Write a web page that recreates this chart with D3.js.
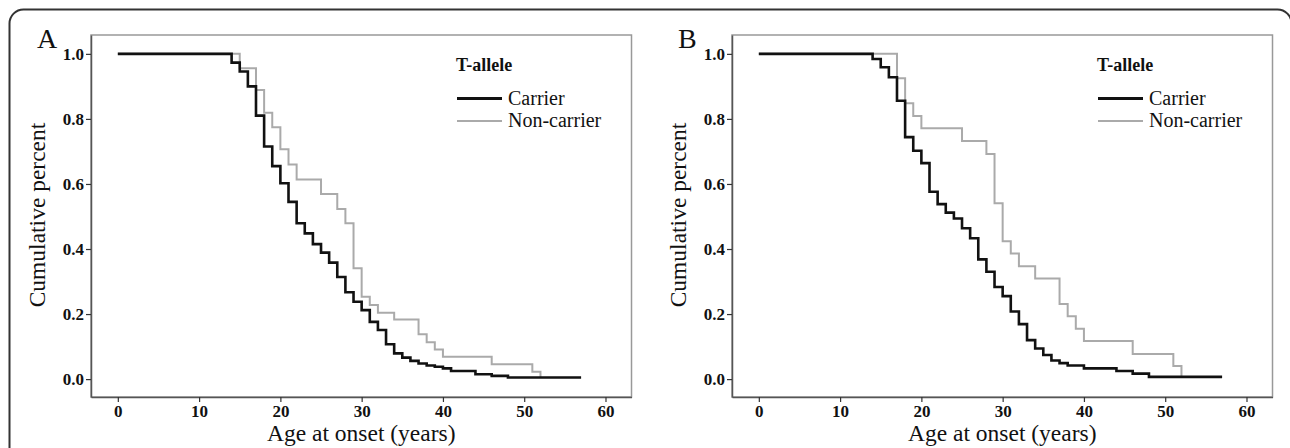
<!DOCTYPE html>
<html>
<head>
<meta charset="utf-8">
<script src="https://d3js.org/d3.v7.min.js"></script>
<style>
  body { margin: 0; background: #fff; }
  text { font-family: "Liberation Serif", "DejaVu Serif", serif; fill: #111; }
</style>
</head>
<body>
<div id="chart"></div>
<script>
// Step curves: age at which the step happens, value after the step
var carrierAgesA = [0, 14, 15, 16, 17, 18, 19, 20, 21, 22, 23, 24, 25, 26, 27, 28, 29, 30, 31, 32, 33, 34, 35, 36, 37, 38, 39, 40, 41, 44, 46, 48, 57];
var carrierValsA = [1.0, 0.973, 0.946, 0.90, 0.81, 0.715, 0.655, 0.602, 0.545, 0.479, 0.448, 0.415, 0.389, 0.358, 0.314, 0.267, 0.238, 0.212, 0.176, 0.151, 0.107, 0.079, 0.066, 0.056, 0.048, 0.042, 0.038, 0.033, 0.025, 0.015, 0.010, 0.005, 0.005];

var nonCarrierAgesA = [0, 15, 17, 18, 19, 20, 21, 22, 25, 27, 28, 29, 30, 31, 32, 34, 37, 38, 39, 40, 46, 51, 52];
var nonCarrierValsA = [1.0, 0.956, 0.889, 0.819, 0.774, 0.707, 0.66, 0.614, 0.569, 0.523, 0.479, 0.341, 0.253, 0.228, 0.204, 0.183, 0.138, 0.113, 0.091, 0.069, 0.046, 0.023, 0.005];

var carrierAgesB = [0, 14, 15, 16, 17, 18, 19, 20, 21, 22, 23, 24, 25, 26, 27, 28, 29, 30, 31, 32, 33, 34, 35, 36, 37, 38, 40, 44, 46, 48, 57];
var carrierValsB = [1.0, 0.984, 0.959, 0.928, 0.856, 0.744, 0.702, 0.664, 0.576, 0.538, 0.512, 0.494, 0.464, 0.433, 0.368, 0.330, 0.283, 0.255, 0.208, 0.169, 0.12, 0.094, 0.074, 0.057, 0.049, 0.042, 0.033, 0.025, 0.017, 0.007, 0.007];

var nonCarrierAgesB = [0, 17, 18, 19, 20, 25, 28, 29, 30, 31, 32, 34, 37, 38, 39, 40, 46, 51, 52];
var nonCarrierValsB = [1.0, 0.925, 0.848, 0.809, 0.771, 0.732, 0.692, 0.541, 0.424, 0.386, 0.347, 0.309, 0.231, 0.193, 0.155, 0.117, 0.077, 0.04, 0.005];

var xTicks = [0, 10, 20, 30, 40, 50, 60];
var yTicks = [0.0, 0.2, 0.4, 0.6, 0.8, 1.0];
var seriesNames = ["Carrier", "Non-carrier"];
var panelLetters = ["A", "B"];

var svgWidth = 1290;
var svgHeight = 448;

var svg = d3.select("#chart")
  .append("svg")
  .attr("width", svgWidth)
  .attr("height", svgHeight);

// outer rounded frame (bottom runs off the picture)
svg.append("rect")
  .attr("x", 9.5)
  .attr("y", 9.5)
  .attr("width", 1282)
  .attr("height", 470)
  .attr("rx", 14)
  .attr("fill", "none")
  .attr("stroke", "#333")
  .attr("stroke-width", 2);

var panels = [
  { letter: panelLetters[0], left: 91, right: 631.5, carrier: [carrierAgesA, carrierValsA], non: [nonCarrierAgesA, nonCarrierValsA] },
  { letter: panelLetters[1], left: 732, right: 1272.5, carrier: [carrierAgesB, carrierValsB], non: [nonCarrierAgesB, nonCarrierValsB] }
];

var plotTop = 35, plotBottom = 397;

panels.forEach(function(p) {
  var x = d3.scaleLinear().domain([-3.3, 63.2]).range([p.left, p.right]);
  var y = d3.scaleLinear().domain([-0.055, 1.058]).range([plotBottom, plotTop]);

  var g = svg.append("g");

  // plot frame
  g.append("rect")
    .attr("x", p.left)
    .attr("y", plotTop)
    .attr("width", p.right - p.left)
    .attr("height", plotBottom - plotTop)
    .attr("fill", "none")
    .attr("stroke", "#999")
    .attr("stroke-width", 1.5);

  var xAxis = d3.axisBottom(x).tickValues(xTicks).tickSize(5).tickSizeOuter(0).tickFormat(d3.format("d"));
  var yAxis = d3.axisLeft(y).tickValues(yTicks).tickSize(5).tickSizeOuter(0).tickFormat(d3.format(".1f"));

  var gx = g.append("g")
    .attr("transform", `translate(0, ${plotBottom})`)
    .call(xAxis);
  var gy = g.append("g")
    .attr("transform", `translate(${p.left}, 0)`)
    .call(yAxis);

  [gx, gy].forEach(function(a) {
    a.select(".domain").attr("stroke", "#555").attr("stroke-width", 1.5);
    a.selectAll(".tick line").attr("stroke", "#333").attr("stroke-width", 1.2);
    a.selectAll(".tick text")
      .style("font-family", "'Liberation Serif', serif")
      .style("font-weight", "bold")
      .style("font-size", "17px")
      .attr("fill", "#111");
  });
  gx.selectAll(".tick text").attr("y", 8);
  gy.selectAll(".tick text").attr("x", -7);

  // step lines
  var line = d3.line()
    .x(d => x(d[0]))
    .y(d => y(d[1]))
    .curve(d3.curveStepAfter);

  var nonData = d3.zip(p.non[0], p.non[1]);
  var carData = d3.zip(p.carrier[0], p.carrier[1]);

  g.append("path")
    .datum(nonData)
    .attr("d", line)
    .attr("fill", "none")
    .attr("stroke", "#aaa")
    .attr("stroke-width", 2);

  g.append("path")
    .datum(carData)
    .attr("d", line)
    .attr("fill", "none")
    .attr("stroke", "#111")
    .attr("stroke-width", 2.6);

  // panel letter
  svg.append("text")
    .attr("x", p.left - 54)
    .attr("y", 48)
    .style("font-size", "28px")
    .text(p.letter);

  // axis titles
  svg.append("text")
    .attr("transform", `translate(${p.left - 46}, 215) rotate(-90)`)
    .attr("text-anchor", "middle")
    .style("font-size", "23.5px")
    .text("Cumulative percent");

  svg.append("text")
    .attr("x", (p.left + p.right) / 2)
    .attr("y", 441)
    .attr("text-anchor", "middle")
    .style("font-size", "23.5px")
    .text("Age at onset (years)");

  // legend
  var lx = p.left + 365;
  svg.append("text")
    .attr("x", lx)
    .attr("y", 71)
    .style("font-size", "18px")
    .style("font-weight", "bold")
    .text("T-allele");

  var legendColors = ["#111", "#aaa"];
  var legendWidths = [3, 2];
  var legendY = [98.5, 121];
  seriesNames.forEach(function(name, i) {
    svg.append("line")
      .attr("x1", lx + 1)
      .attr("x2", lx + 46)
      .attr("y1", legendY[i])
      .attr("y2", legendY[i])
      .attr("stroke", legendColors[i])
      .attr("stroke-width", legendWidths[i]);
    svg.append("text")
      .attr("x", lx + 52)
      .attr("y", legendY[i] + 6)
      .style("font-size", "20px")
      .text(name);
  });
});
</script>
</body>
</html>
